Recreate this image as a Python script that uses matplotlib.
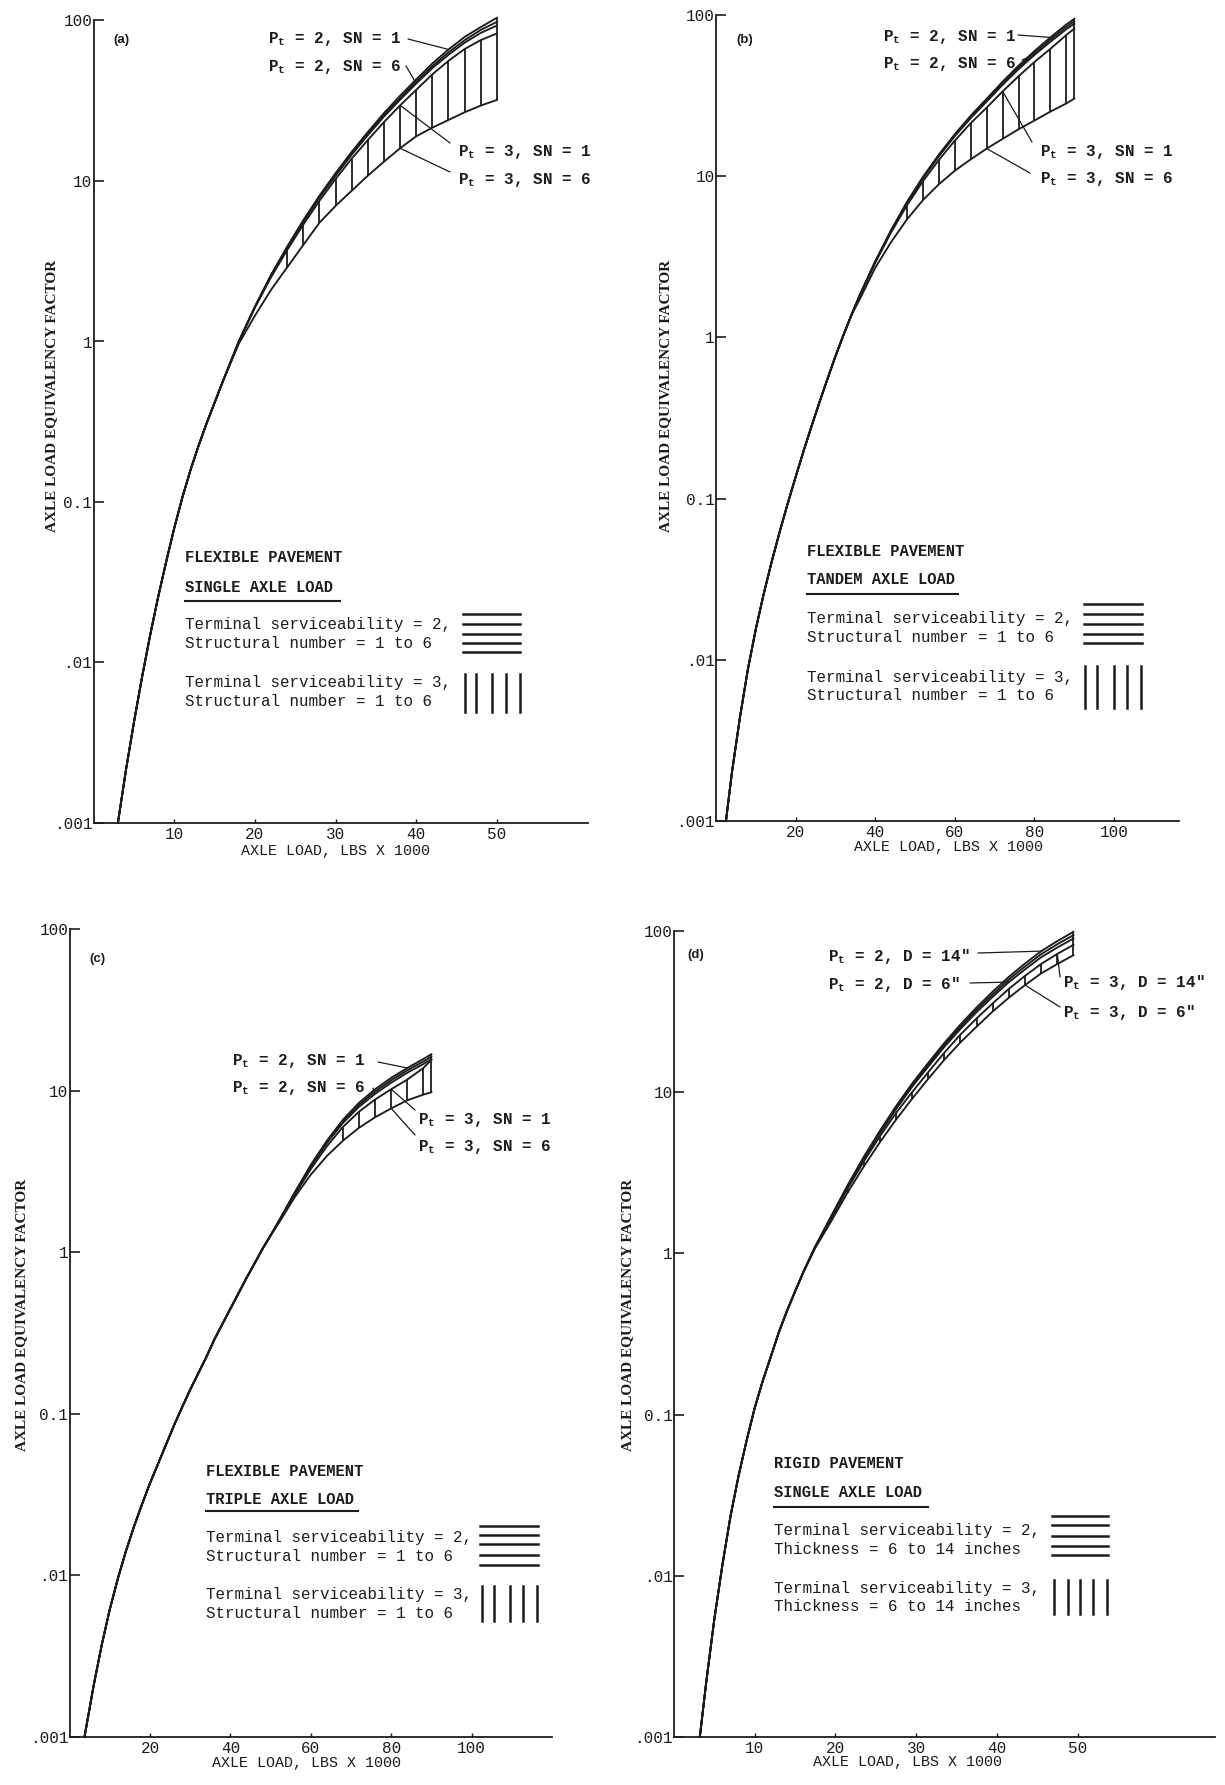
import matplotlib
matplotlib.use("Agg")
import matplotlib.pyplot as plt
import matplotlib.transforms as mtransforms
from matplotlib.lines import Line2D

W, H = 1225, 1785
plt.rcParams['font.family'] = ['Liberation Mono', 'DejaVu Sans']
plt.rcParams['mathtext.default'] = 'regular'
fig = plt.figure(figsize=(W / 100, H / 100), dpi=100)
fig.patch.set_facecolor('white')
REF = mtransforms.Affine2D().scale(1.0 / W, -1.0 / H).translate(0, 1) + fig.transFigure
INK = '#1c1c1c'

# ---------------- data ----------------
y_ticks = [0.001, 0.01, 0.1, 1, 10, 100]
y_tick_labels = ['.001', '.01', '0.1', '1', '10', '100']

# (a) flexible pavement, single axle
a_x_ticks = [10, 20, 30, 40, 50]
a_x_low = [3, 4, 5, 6, 7, 8, 9, 10, 11, 12, 13, 14, 16]
a_low = [0.001, 0.00214, 0.00427, 0.00813, 0.0148, 0.0257, 0.0427, 0.0692, 0.107, 0.158, 0.224, 0.309, 0.562]
a_x_hi = [18, 20, 22, 24, 26, 28, 30, 32, 34, 36, 38, 40, 42, 44, 46, 48, 50]
a_p2_sn1 = [1.0, 1.65, 2.6, 3.9, 5.7, 8.1, 11.2, 15.2, 20.2, 26.5, 34, 43, 54, 66, 79, 91, 104]
a_p2_sn3 = [1.0, 1.65, 2.59, 3.87, 5.64, 7.99, 11.0, 14.9, 19.7, 25.8, 32.9, 41.6, 52.0, 63.3, 75.4, 87.4, 98]
a_p2_sn6 = [1.0, 1.64, 2.57, 3.84, 5.58, 7.88, 10.8, 14.6, 19.3, 25.2, 32.1, 40.5, 50.5, 61.1, 72.7, 83.7, 93]
a_p3_sn1 = [1.0, 1.63, 2.52, 3.72, 5.36, 7.53, 10.3, 13.8, 18.0, 23.3, 29.6, 37.0, 46.2, 56.1, 66.4, 75.5, 83]
a_p3_sn6 = [0.97, 1.45, 2.1, 2.9, 4.0, 5.5, 7.0, 8.7, 10.8, 13.2, 16.0, 19.0, 21.5, 24.0, 26.8, 29.5, 32]
a_hatch_x = [24, 26, 28, 30, 32, 34, 36, 38, 40, 42, 44, 46, 48, 50]

# (b) flexible pavement, tandem axle
b_x_ticks = [20, 40, 60, 80, 100]
b_x_low = [2.5, 4, 6, 8, 10, 12, 14, 16, 18, 20, 22, 24, 26, 28, 30, 32, 34]
b_low = [0.001, 0.002, 0.00437, 0.0087, 0.0155, 0.0257, 0.0407, 0.0622, 0.0929, 0.136, 0.197,
         0.281, 0.396, 0.552, 0.762, 1.03, 1.37]
b_x_hi = [36, 40, 44, 48, 52, 56, 60, 64, 68, 72, 76, 80, 84, 88, 90]
b_p2_sn1 = [1.8, 2.95, 4.62, 6.92, 9.89, 13.6, 18.2, 23.7, 30.2, 38.5, 48.4, 59.6, 72.4, 87.1, 94.4]
b_p2_sn3 = [1.8, 2.95, 4.6, 6.87, 9.8, 13.45, 17.95, 23.3, 29.6, 37.6, 47.2, 58.0, 70.2, 84.3, 91.2]
b_p2_sn6 = [1.8, 2.94, 4.58, 6.83, 9.72, 13.3, 17.7, 22.9, 29.0, 36.8, 46.0, 56.4, 68.0, 81.5, 88.0]
b_p3_sn1 = [1.79, 2.9, 4.48, 6.6, 9.3, 12.6, 16.6, 21.3, 26.6, 33.5, 41.6, 51.0, 61.5, 75.0, 82.0]
b_p3_sn6 = [1.7, 2.7, 3.9, 5.4, 7.1, 8.9, 10.8, 12.7, 14.8, 17.0, 19.5, 22.1, 25.1, 28.2, 30.2]
b_hatch_x = [48, 52, 56, 60, 64, 68, 72, 76, 80, 84, 88, 90]

# (c) flexible pavement, triple axle
c_x_ticks = [20, 40, 60, 80, 100]
c_x_low = [3.7, 6, 8, 10, 12, 14, 16, 18, 20, 22, 24, 26, 28, 30, 32, 34, 36, 38, 40, 42, 44, 46, 48, 50]
c_low = [0.001, 0.00209, 0.00372, 0.00617, 0.00955, 0.0141, 0.02, 0.0275, 0.0372, 0.049, 0.0646,
         0.0851, 0.11, 0.141, 0.178, 0.224, 0.288, 0.359, 0.447, 0.556, 0.692, 0.851, 1.05, 1.27]
c_x_hi = [52, 56, 60, 64, 68, 72, 76, 80, 84, 88, 90]
c_p2_sn1 = [1.55, 2.34, 3.47, 4.9, 6.61, 8.41, 10.2, 12.0, 13.8, 15.7, 16.8]
c_p2_sn3 = [1.55, 2.33, 3.43, 4.81, 6.46, 8.17, 9.87, 11.6, 13.35, 15.15, 16.25]
c_p2_sn6 = [1.55, 2.32, 3.39, 4.73, 6.31, 7.94, 9.55, 11.2, 12.9, 14.6, 15.7]
c_p3_sn1 = [1.53, 2.26, 3.27, 4.52, 5.96, 7.41, 8.81, 10.2, 11.7, 13.8, 15.5]
c_p3_sn6 = [1.51, 2.19, 3.02, 3.94, 4.9, 5.89, 6.84, 7.76, 8.71, 9.44, 9.77]
c_hatch_x = [68, 72, 76, 80, 84, 88, 90]

# (d) rigid pavement, single axle
d_x_ticks = [10, 20, 30, 40, 50]
d_x_low = [3.2, 4, 5, 6, 7, 8, 9, 10, 11, 12, 13, 14, 15, 16]
d_low = [0.001, 0.0022, 0.0054, 0.0117, 0.0234, 0.0417, 0.0692, 0.11, 0.162, 0.229, 0.325,
         0.44, 0.58, 0.76]
d_x_hi = [17.5, 19.5, 21.5, 23.5, 25.5, 27.5, 29.5, 31.5, 33.5, 35.5, 37.5, 39.5, 41.5, 43.5, 45.5, 47.5, 49.5]
d_p2_d14 = [1.10, 1.71, 2.64, 3.96, 5.75, 8.17, 11.3, 15.2, 20.2, 26.3, 33.6, 42.1, 52.0, 62.9, 75.0, 86.6, 98.9]
d_p2_d10 = [1.10, 1.70, 2.61, 3.90, 5.66, 7.99, 11.0, 14.8, 19.7, 25.5, 32.5, 40.5, 50.1, 60.3, 71.9, 82.8, 94.3]
d_p2_d6 = [1.10, 1.68, 2.57, 3.85, 5.55, 7.83, 10.8, 14.4, 19.1, 24.7, 31.4, 39.1, 48.2, 57.8, 68.8, 79.0, 89.8]
d_p3_d14 = [1.10, 1.66, 2.52, 3.71, 5.31, 7.42, 10.0, 13.3, 17.6, 22.8, 28.7, 35.6, 43.8, 52.7, 62.5, 72.1, 82.1]
d_p3_d6 = [1.08, 1.59, 2.38, 3.45, 4.88, 6.74, 9.10, 12.1, 15.9, 20.4, 25.5, 31.7, 38.6, 46.2, 54.6, 62.4, 70.8]
d_hatch_x = [21.5, 23.5, 25.5, 27.5, 29.5, 31.5, 33.5, 35.5, 37.5, 39.5, 41.5, 43.5, 45.5, 47.5, 49.5]

# ---------------- helpers ----------------
def make_axes(left, right, top, bottom, xmax, xticks):
    ax = fig.add_axes([left / W, 1 - bottom / H, (right - left) / W, (bottom - top) / H])
    ax.set_yscale('log')
    ax.set_xlim(0, xmax)
    ax.set_ylim(1e-3, 100)
    for s in ('top', 'right'):
        ax.spines[s].set_visible(False)
    for s in ('left', 'bottom'):
        ax.spines[s].set_linewidth(1.3)
        ax.spines[s].set_color(INK)
    ax.set_yticks(y_ticks)
    ax.set_yticklabels(y_tick_labels)
    ax.yaxis.set_minor_locator(matplotlib.ticker.NullLocator())
    ax.set_xticks(xticks)
    ax.set_xticklabels([str(t) for t in xticks])
    ax.tick_params(axis='y', direction='in', length=7, width=1.2, pad=1, labelsize=11.5,
                   colors=INK)
    ax.tick_params(axis='x', direction='in', length=3, width=1.0, pad=3, labelsize=11.5,
                   colors=INK)
    ax.patch.set_alpha(0)
    return ax


def curve(ax, xl, yl, xh, yh, lw=1.35):
    ax.plot(xl + xh, yl + yh, color=INK, lw=lw, clip_on=False, solid_joinstyle='round')


def hatch(ax, xh, top, bot, hx, first_top):
    xs, lo, hi = [], [], []
    for i, x in enumerate(xh):
        if x in hx:
            xs.append(x)
            lo.append(bot[i])
            hi.append(first_top[i] if i == len(xh) - 1 else top[i])
    ax.vlines(xs, lo, hi, color=INK, lw=1.3, clip_on=False)


def pointer(ax, label, text_xy, start_xy, target):
    fig.text(text_xy[0], text_xy[1] + 2, label, transform=REF, fontsize=11.5, fontweight='bold',
             ha='left', va='center', color=INK)
    ax.annotate('', xy=target, xycoords='data', xytext=start_xy, textcoords=REF,
                arrowprops=dict(arrowstyle='-', lw=0.9, color=INK, shrinkA=0, shrinkB=0))


def key(tx, t1, t2, uy, ux1, y1a, y1b, hx0, hx1, hys, vxs, vy0, vy1, y2a, y2b, l1a, l1b, l2a, l2b):
    fig.text(tx, t1[1], t1[0], transform=REF, fontsize=11.2, fontweight='bold', ha='left',
             va='center', color=INK)
    fig.text(tx, t2[1], t2[0], transform=REF, fontsize=11.2, fontweight='bold', ha='left',
             va='center', color=INK)
    fig.add_artist(Line2D([tx, ux1], [uy, uy], transform=REF, color=INK, lw=1.5))
    for y, s in ((y1a, l1a), (y1b, l1b), (y2a, l2a), (y2b, l2b)):
        fig.text(tx, y, s, transform=REF, fontsize=11.4, ha='left', va='center', color=INK)
    for y in hys:
        fig.add_artist(Line2D([hx0, hx1], [y, y], transform=REF, color=INK, lw=1.8))
    for x in vxs:
        fig.add_artist(Line2D([x, x], [vy0, vy1], transform=REF, color=INK, lw=1.8))


def labels(ylab_xy, xlab_xy, letter, letter_xy):
    fig.text(ylab_xy[0], ylab_xy[1], 'AXLE LOAD EQUIVALENCY FACTOR', transform=REF,
             rotation=90, ha='center', va='center', fontsize=11, fontweight='bold',
             family='Liberation Serif', color=INK)
    fig.text(xlab_xy[0], xlab_xy[1], 'AXLE LOAD, LBS X 1000', transform=REF, ha='center',
             va='center', fontsize=10.8, color=INK)
    fig.text(letter_xy[0], letter_xy[1], letter, transform=REF, ha='left', va='center',
             fontsize=9.5, fontweight='bold', family='Liberation Sans', color=INK)


PT2 = '$P_t$ = 2, '
PT3 = '$P_t$ = 3, '

# ---------------- panel (a) ----------------
ax = make_axes(93.7, 588, 20.5, 823, 61.3, a_x_ticks)
for c in (a_p2_sn1, a_p2_sn3, a_p2_sn6, a_p3_sn1, a_p3_sn6):
    curve(ax, a_x_low, a_low, a_x_hi, c)
hatch(ax, a_x_hi, a_p3_sn1, a_p3_sn6, a_hatch_x, a_p2_sn1)
i = a_x_hi.index
pointer(ax, PT2 + 'SN = 1', (268, 37), (408, 39), (44, a_p2_sn1[i(44)]))
pointer(ax, PT2 + 'SN = 6', (268, 65), (406, 66), (40, a_p2_sn6[i(40)]))
pointer(ax, PT3 + 'SN = 1', (458, 150), (450, 143), (38, a_p3_sn1[i(38)]))
pointer(ax, PT3 + 'SN = 6', (458, 178), (450, 172), (38, a_p3_sn6[i(38)]))
key(185, ('FLEXIBLE PAVEMENT', 558), ('SINGLE AXLE LOAD', 587), 601, 340, 625, 643,
    463, 520, [614, 624, 634, 643, 652], [465, 476, 492, 506, 520], 674, 712, 683, 701,
    'Terminal serviceability = 2,', 'Structural number = 1 to 6',
    'Terminal serviceability = 3,', 'Structural number = 1 to 6')
labels((51.5, 396), (335.5, 851), '(a)', (113, 40))

# ---------------- panel (b) ----------------
ax = make_axes(716, 1179, 14.8, 821, 116.3, b_x_ticks)
for c in (b_p2_sn1, b_p2_sn3, b_p2_sn6, b_p3_sn1, b_p3_sn6):
    curve(ax, b_x_low, b_low, b_x_hi, c)
hatch(ax, b_x_hi, b_p3_sn1, b_p3_sn6, b_hatch_x, b_p2_sn1)
i = b_x_hi.index
pointer(ax, PT2 + 'SN = 1', (883, 35), (1018, 35), (84, b_p2_sn1[i(84)]))
pointer(ax, PT2 + 'SN = 6', (883, 62), (1022, 60), (80, b_p2_sn6[i(80)]))
pointer(ax, PT3 + 'SN = 1', (1040, 150), (1032, 142), (72, b_p3_sn1[i(72)]))
pointer(ax, PT3 + 'SN = 6', (1040, 177), (1030, 173), (68, b_p3_sn6[i(68)]))
key(807, ('FLEXIBLE PAVEMENT', 551), ('TANDEM AXLE LOAD', 580), 594, 958, 619, 637,
    1084, 1142, [604.5, 614.4, 623.7, 633.6, 643], [1085, 1096.5, 1113.8, 1127.3, 1140.8],
    666.5, 707.6, 677.5, 695.6,
    'Terminal serviceability = 2,', 'Structural number = 1 to 6',
    'Terminal serviceability = 3,', 'Structural number = 1 to 6')
labels((665.5, 396), (948, 847.5), '(b)', (736, 39.5))

# ---------------- panel (c) ----------------
ax = make_axes(69.6, 552, 929, 1737, 120, c_x_ticks)
for c in (c_p2_sn1, c_p2_sn3, c_p2_sn6, c_p3_sn1, c_p3_sn6):
    curve(ax, c_x_low, c_low, c_x_hi, c)
hatch(ax, c_x_hi, c_p3_sn1, c_p3_sn6, c_hatch_x, c_p2_sn1)
i = c_x_hi.index
pointer(ax, PT2 + 'SN = 1', (232, 1059), (378, 1062), (84, c_p2_sn1[i(84)]))
pointer(ax, PT2 + 'SN = 6', (232, 1086), (373, 1088), (76, c_p2_sn6[i(76)]))
pointer(ax, PT3 + 'SN = 1', (418, 1118), (415, 1110), (80, c_p3_sn1[i(80)]))
pointer(ax, PT3 + 'SN = 6', (418, 1145), (415, 1135), (80, c_p3_sn6[i(80)]))
key(205.6, ('FLEXIBLE PAVEMENT', 1471), ('TRIPLE AXLE LOAD', 1499), 1510.6, 358, 1537.7, 1556.3,
    480, 538, [1526, 1535, 1544, 1554.6, 1564.8], [481.6, 493.5, 510, 522.7, 536.6],
    1585.6, 1621, 1595, 1614,
    'Terminal serviceability = 2,', 'Structural number = 1 to 6',
    'Terminal serviceability = 3,', 'Structural number = 1 to 6')
labels((21.7, 1315), (307, 1763), '(c)', (89, 959))

# ---------------- panel (d) ----------------
ax = make_axes(674, 1214.7, 931, 1737, 67, d_x_ticks)
for c in (d_p2_d14, d_p2_d10, d_p2_d6, d_p3_d14, d_p3_d6):
    curve(ax, d_x_low, d_low, d_x_hi, c)
hatch(ax, d_x_hi, d_p3_d14, d_p3_d6, d_hatch_x, d_p2_d14)
i = d_x_hi.index
pointer(ax, PT2 + 'D = 14"', (828, 955), (978, 953), (45.5, d_p2_d14[i(45.5)]))
pointer(ax, PT2 + 'D = 6"', (828, 983), (970, 983), (41.5, d_p2_d6[i(41.5)]))
pointer(ax, PT3 + 'D = 14"', (1063, 980), (1060, 977), (47.5, d_p3_d14[i(47.5)]))
pointer(ax, PT3 + 'D = 6"', (1063, 1010), (1060, 1007), (43.5, d_p3_d6[i(43.5)]))
key(774, ('RIGID PAVEMENT', 1464), ('SINGLE AXLE LOAD', 1492.5), 1506.6, 928, 1531, 1550,
    1052, 1108, [1516, 1525, 1536.5, 1546, 1554.6], [1054, 1067.5, 1080, 1092.6, 1107],
    1580, 1614, 1588.5, 1606.5,
    'Terminal serviceability = 2,', 'Thickness = 6 to 14 inches',
    'Terminal serviceability = 3,', 'Thickness = 6 to 14 inches')
labels((627.7, 1315), (907.4, 1762), '(d)', (687.5, 955))

fig.savefig('out.png', dpi=100, facecolor='white')
